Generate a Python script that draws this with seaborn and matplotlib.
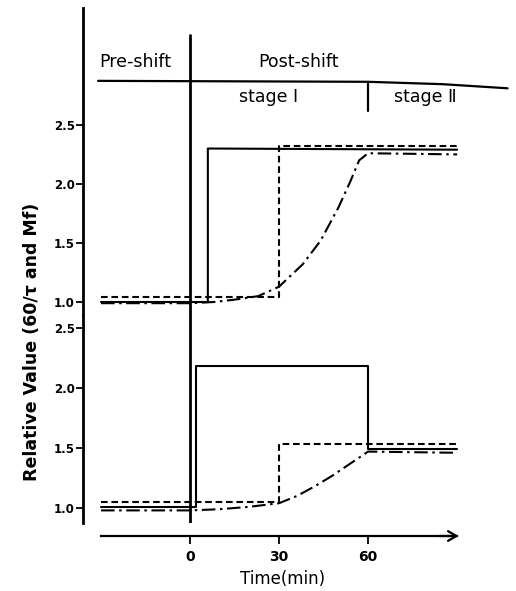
import matplotlib
matplotlib.use("Agg")
import matplotlib.pyplot as plt
from matplotlib.transforms import offset_copy
import seaborn as sns
import numpy as np

# ---------------- data ----------------
# top panel
top_solid_t = [-30, 6, 6, 90]
top_solid_v = [1.00, 1.00, 2.30, 2.29]
top_dash_t = [-30, 30, 30, 90]
top_dash_v = [1.04, 1.04, 2.32, 2.32]
top_dd_t = [-30, 0, 8, 15, 23, 30, 38, 44, 50, 54, 57, 60, 90]
top_dd_v = [0.99, 0.99, 1.00, 1.02, 1.05, 1.13, 1.32, 1.52, 1.80, 2.02, 2.20, 2.26, 2.25]

# bottom panel
bot_solid_t = [-30, 2, 2, 60, 60, 90]
bot_solid_v = [1.01, 1.01, 2.18, 2.18, 1.49, 1.49]
bot_dash_t = [-30, 30, 30, 90]
bot_dash_v = [1.05, 1.05, 1.53, 1.53]
bot_dd_t = [-30, 0, 10, 20, 30, 36, 42, 48, 54, 60, 90]
bot_dd_v = [0.98, 0.98, 0.99, 1.01, 1.04, 1.10, 1.18, 1.27, 1.37, 1.47, 1.46]

y_ticks = [1.0, 1.5, 2.0, 2.5]
y_ticklabels = ["1.0", "1.5", "2.0", "2.5"]
x_ticks = [0, 30, 60]
x_ticklabels = ["0", "30", "60"]

header_line_t = [-31, 60, 85, 107]
header_line_v = [2.873, 2.865, 2.845, 2.81]

# ---------------- style ----------------
sns.set_style("ticks")
plt.rcParams["font.family"] = ["DejaVu Sans", "Noto Sans CJK JP"]
for k in ("text.color", "axes.labelcolor", "xtick.color", "ytick.color", "axes.edgecolor"):
    plt.rcParams[k] = "black"

W, H = 516, 591
fig = plt.figure(figsize=(W / 100, H / 100), dpi=100)

def frac(left, top, right, bottom):
    return [left / W, 1 - bottom / H, (right - left) / W, (bottom - top) / H]

ax_top = fig.add_axes(frac(83, 8, 512, 315))
ax_bot = fig.add_axes(frac(83, 315, 512, 523))

XLIM = (-36.07, 108.5)
LW = 1.5
dash_style = (0, (3.2, 1.8))
dd_style = (0, (6.5, 2.2, 1.2, 2.2))

def draw(ax, t, v, ls):
    sns.lineplot(x=t, y=v, ax=ax, color="black", linewidth=LW, linestyle=ls,
                 estimator=None, sort=False)

draw(ax_top, top_solid_t, top_solid_v, "-")
draw(ax_top, top_dash_t, top_dash_v, dash_style)
draw(ax_top, top_dd_t, top_dd_v, dd_style)

draw(ax_bot, bot_solid_t, bot_solid_v, "-")
draw(ax_bot, bot_dash_t, bot_dash_v, dash_style)
draw(ax_bot, bot_dd_t, bot_dd_v, dd_style)

ax_top.set_xlim(*XLIM)
ax_bot.set_xlim(*XLIM)
ax_top.set_ylim(0.89, 3.49)
ax_bot.set_ylim(0.875, 2.608)

tick_font = dict(fontsize=8.5, fontweight="bold")
for ax in (ax_top, ax_bot):
    ax.set_yticks(y_ticks)
    ax.set_yticklabels(y_ticklabels, **tick_font)
    ax.tick_params(axis="y", direction="out", length=5, width=1.3, pad=1)
    for s in ("top", "right"):
        ax.spines[s].set_visible(False)
    ax.spines["left"].set_linewidth(2)
    ax.set_xlabel("")
    ax.set_ylabel("")

ax_top.spines["bottom"].set_visible(False)
ax_top.set_xticks([])

OFF_PX = 13
ax_bot.spines["bottom"].set_position(("outward", OFF_PX * 72 / 100))
ax_bot.spines["bottom"].set_bounds(-30, 90)
ax_bot.spines["bottom"].set_linewidth(1.6)
ax_bot.set_xticks(x_ticks)
ax_bot.set_xticklabels(x_ticklabels, fontsize=10, fontweight="bold")
ax_bot.tick_params(axis="x", direction="out", length=6, width=1.3, pad=4)

# arrow head on time axis
trans = offset_copy(ax_bot.get_xaxis_transform(), fig=fig, x=0, y=-OFF_PX, units="dots")
ax_bot.annotate("", xy=(90.5, 0), xycoords=trans, xytext=(84, 0), textcoords=trans,
                arrowprops=dict(arrowstyle="->,head_length=0.6,head_width=0.35",
                                color="black", lw=1.6, shrinkA=0, shrinkB=0),
                annotation_clip=False)

ax_bot.set_xlabel("Time(min)", fontsize=12)
ax_bot.xaxis.set_label_coords(0.466, -0.225)

# shift-time vertical line
ax_top.plot([0, 0], [0.89, 3.26], color="black", lw=2, clip_on=False)
ax_bot.axvline(0, color="black", lw=2)

# header
ax_top.plot(header_line_t, header_line_v, color="black", lw=1.6, clip_on=False)
ax_top.plot([60, 60], [2.865, 2.62], color="black", lw=1.6)
hdr = dict(fontsize=12.5, ha="center", va="center")
ax_top.text(-18.5, 3.03, "Pre-shift", **hdr)
ax_top.text(36.4, 3.03, "Post-shift", **hdr)
ax_top.text(26.3, 2.74, "stage Ⅰ", **hdr)
ax_top.text(79.2, 2.74, "stage Ⅱ", **hdr)

fig.text(32 / W, 1 - 342 / H, "Relative Value (60/τ and Mf)", rotation=90,
         ha="center", va="center", fontsize=12.5, fontweight="bold")

fig.savefig("out.png", dpi=100)
